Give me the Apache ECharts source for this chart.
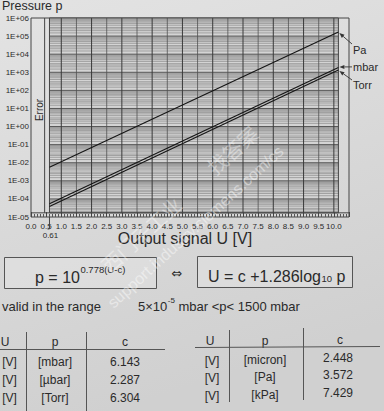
<!DOCTYPE html>
<html><head><meta charset="utf-8">
<script src="https://cdn.jsdelivr.net/npm/echarts@6/dist/echarts.min.js"></script>
<style>html,body{margin:0;padding:0;background:#d9d9d9}#c{width:384px;height:411px}</style>
</head><body><div id="c"></div><script>
// ---- data ----
const xTickLabels = ['0.0','0.5','1.0','1.5','2.0','2.5','3.0','3.5','4.0','4.5','5.0','5.5','6.0','6.5','7.0','7.5','8.0','8.5','9.0','9.5','10.0','10.5'];
const yTickLabels = ['1E+06','1E+05','1E+04','1E+03','1E+02','1E+01','1E+00','1E-01','1E-02','1E-03','1E-04','1E-05'];
const seriesNames = ['Pa','mbar','Torr'];
const lineU = [0.61, 10.15];
const paValues = [5.6e-3, 1.66e5];
const mbarValues = [5.4e-5, 1.86e3];
const torrValues = [3.8e-5, 1.35e3];
const vGridU = [1.0,1.5,2.0,2.5,3.0,3.5,4.0,4.5,5.0,5.5,6.0,6.5,7.0,7.5,8.0,8.5,9.0,9.5,10.0];
const hGridMantissa = [1,1.5,2,2.5,3,4,5,6,7,8,9];
const hGridDecades = [-5,-4,-3,-2,-1,0,1,2,3,4,5];
const leftUnits = ['[mbar]','[µbar]','[Torr]'];
const leftC = ['6.143','2.287','6.304'];
const rightUnits = ['[micron]','[Pa]','[kPa]'];
const rightC = ['2.448','3.572','7.429'];

// ---- layout constants ----
const FONT = '"Liberation Sans", Arial, sans-serif';
const TXT = '#2a2a2a';
const xMin = 0, xMax = 10.5, yMin = 1e-5, yMax = 1e6;
const hatchU = [0.61, 10.15];
const hatchBottom = 1.7e-5;
const errorU = 0.45;

const chart = echarts.init(document.getElementById('c'), null, {renderer: 'svg'});

function renderHatch(params, api) {
  const tl = api.coord([hatchU[0], yMax]);
  const br = api.coord([hatchU[1], hatchBottom]);
  const kids = [];
  kids.push({type: 'rect', shape: {x: tl[0], y: tl[1], width: br[0] - tl[0], height: br[1] - tl[1]}, style: {fill: '#d4d4d4'}});
  hGridDecades.forEach(d => {
    hGridMantissa.forEach(m => {
      const v = m * Math.pow(10, d);
      if (v < hatchBottom || v > yMax) return;
      const y = api.coord([hatchU[0], v])[1];
      const major = m === 1;
      kids.push({type: 'line', shape: {x1: tl[0], y1: y, x2: br[0], y2: y},
        style: {stroke: major ? '#4a4a4a' : '#747474', lineWidth: major ? 0.9 : 0.55}});
    });
  });
  vGridU.forEach(u => {
    const x = api.coord([u, 1])[0];
    const whole = Math.abs(u - Math.round(u)) < 1e-6;
    kids.push({type: 'line', shape: {x1: x, y1: tl[1], x2: x, y2: br[1]},
      style: {stroke: whole ? '#3a3a3a' : '#505050', lineWidth: whole ? 1 : 0.8}});
  });
  kids.push({type: 'rect', shape: {x: tl[0], y: tl[1], width: br[0] - tl[0], height: br[1] - tl[1]}, style: {fill: 'none', stroke: '#444', lineWidth: 1}});
  const ex = api.coord([errorU, 1])[0];
  kids.push({type: 'line', shape: {x1: ex, y1: tl[1], x2: ex, y2: br[1]}, style: {stroke: '#444', lineWidth: 1}});
  const l0 = api.coord([xMin, hatchBottom]);
  const l1 = api.coord([xMax, hatchBottom]);
  kids.push({type: 'line', shape: {x1: l0[0], y1: l0[1], x2: l1[0], y2: l1[1]}, style: {stroke: '#444', lineWidth: 1}});
  return {type: 'group', children: kids};
}

function lineSeries(name, vals) {
  return {
    name, type: 'line', silent: true, symbol: 'none', z: 5,
    data: [[lineU[0], vals[0]], [lineU[1], vals[1]]],
    lineStyle: {color: '#151515', width: 1.1}
  };
}

chart.setOption({
  animation: false,
  backgroundColor: {type: 'linear', x: 0, y: 0, x2: 0.3, y2: 1,
    colorStops: [{offset: 0, color: '#e3e3e3'}, {offset: 1, color: '#d0d0d0'}]},
  grid: {left: 31, right: 35, top: 18, bottom: 194, show: true, borderColor: '#444', borderWidth: 1, backgroundColor: 'transparent'},
  xAxis: {
    type: 'value', min: xMin, max: xMax, interval: 0.5,
    axisLine: {show: false},
    axisTick: {show: true, inside: true, length: 5, lineStyle: {color: '#444'}},
    minorTick: {show: true, splitNumber: 5, length: 3, lineStyle: {color: '#555'}},
    splitLine: {show: false},
    axisLabel: {fontSize: 8, color: TXT, fontFamily: FONT, margin: 5,
      formatter: v => xTickLabels[Math.round(v / 0.5)] || ''},
    name: 'Output signal U [V]', nameLocation: 'middle', nameGap: 12,
    nameTextStyle: {fontSize: 16, color: TXT, fontFamily: FONT, padding: [0, 10, 0, 0]}
  },
  yAxis: {
    type: 'log', logBase: 10, min: yMin, max: yMax, interval: 1,
    axisLine: {show: false}, axisTick: {show: false}, splitLine: {show: false},
    axisLabel: {fontSize: 8, color: TXT, fontFamily: FONT, margin: 2,
      formatter: v => yTickLabels[6 - Math.round(Math.log10(v))] || ''}
  },
  series: [
    {type: 'custom', silent: true, z: 1, data: [[hatchU[0], 1]], renderItem: renderHatch, clip: false},
    lineSeries(seriesNames[0], paValues),
    lineSeries(seriesNames[1], mbarValues),
    lineSeries(seriesNames[2], torrValues)
  ]
});

// ---- annotations ----
const mctx = document.createElement('canvas').getContext('2d');
function tw(str, size) { mctx.font = size + 'px ' + FONT; return mctx.measureText(str).width; }
function txt(s, x, y, size, align, extra, family) {
  return Object.assign({type: 'text', x, y, silent: true, z: 20,
    style: {text: s, fontSize: size, fontFamily: family || FONT, fill: TXT, align: align || 'left', verticalAlign: 'middle'}}, extra || {});
}
function seg(x1, y1, x2, y2, w, c) {
  return {type: 'line', silent: true, z: 20, shape: {x1, y1, x2, y2}, style: {stroke: c || '#555', lineWidth: w || 1}};
}
function arrow(x1, y1, x2, y2) {
  const a = Math.atan2(y2 - y1, x2 - x1), L = 5, W = 2;
  const bx = x2 - L * Math.cos(a), by = y2 - L * Math.sin(a);
  return [seg(x1, y1, bx, by, 0.9, '#333'),
    {type: 'polygon', silent: true, z: 20, shape: {points: [[x2, y2],
      [bx + W * Math.sin(a), by - W * Math.cos(a)], [bx - W * Math.sin(a), by + W * Math.cos(a)]]},
      style: {fill: '#333'}}];
}
const P = (x, y) => chart.convertToPixel({gridIndex: 0}, [x, y]);
const paEnd = P(lineU[1], paValues[1]);
const mbEnd = P(lineU[1], mbarValues[1]);
const toEnd = P(lineU[1], torrValues[1]);
const b0 = P(hatchU[0], yMin);
const g = [];
g.push(txt('Pressure p', 2, 6, 12.5));
g.push(txt('Error', 39, 110, 10, 'center', {rotation: Math.PI / 2}));
// right labels + arrows
g.push(txt(seriesNames[0], 353, 50, 11));
g.push(txt(seriesNames[1], 353, 67, 11));
g.push(txt(seriesNames[2], 353, 85, 11));
g.push(...arrow(352, 44, paEnd[0] + 1, paEnd[1] + 1));
g.push(...arrow(352, mbEnd[1] - 0.5, mbEnd[0] + 1, mbEnd[1] - 0.5));
g.push(...arrow(352, 80, toEnd[0] + 1, toEnd[1] + 1));
// 0.61 bracket
g.push(seg(b0[0], b0[1], b0[0], b0[1] + 12, 1, '#444'));
g.push(seg(b0[0] - 2, b0[1] + 12, b0[0], b0[1] + 12, 1, '#444'));
g.push(txt('0.61', b0[0] + 1, 235, 8, 'center'));
// formula boxes
g.push({type: 'rect', silent: true, z: 19, shape: {x: 4.5, y: 257.5, width: 152, height: 31}, style: {fill: 'rgba(235,235,235,0.35)', stroke: '#555', lineWidth: 1}});
g.push({type: 'rect', silent: true, z: 19, shape: {x: 197.5, y: 256.5, width: 155, height: 31}, style: {fill: 'rgba(235,235,235,0.35)', stroke: '#555', lineWidth: 1}});
const f1 = 'p = 10';
g.push(txt(f1, 35, 277, 16));
g.push(txt('0.778(U-c)', 35 + tw(f1, 16) + 0.5, 269, 9.5));
g.push(txt('\u21D4', 177, 273, 13, 'center', null, '"DejaVu Sans", sans-serif'));
const f2 = 'U = c +1.286log';
const f2w = tw(f2, 16);
g.push(txt(f2, 208, 276, 16));
g.push(txt('10', 208 + f2w + 0.5, 278, 9.5));
g.push(txt(' p', 208 + f2w + 0.5 + tw('10', 9.5), 276, 16));
// validity row
g.push(txt('valid in the range', 2, 306, 13));
const v1 = '5\u00D710';
g.push(txt(v1, 138, 306, 13));
const v1w = tw(v1, 13);
g.push(txt('-5', 138 + v1w + 0.5, 300, 8));
g.push(txt(' mbar <p< 1500 mbar', 138 + v1w + 0.5 + tw('-5', 8), 306, 13));
// left table
g.push(txt('U', 5, 342, 12, 'center'));
g.push(txt('p', 55, 342, 12, 'center'));
g.push(txt('c', 125, 342, 12, 'center'));
g.push(seg(0, 349.5, 165, 349.5));
g.push(seg(26.5, 332, 26.5, 411));
g.push(seg(86.5, 332, 86.5, 411));
const rowsL = [362, 380, 398];
leftUnits.forEach((u, i) => {
  g.push(txt('[V]', 9.5, rowsL[i], 12, 'center'));
  g.push(txt(u, 55, rowsL[i], 12, 'center'));
  g.push(txt(leftC[i], 125, rowsL[i], 12, 'center'));
});
// right table
g.push(txt('U', 210, 341, 12, 'center'));
g.push(txt('p', 265, 341, 12, 'center'));
g.push(txt('c', 340, 340, 12, 'center'));
g.push(seg(195, 347.5, 380, 346.5));
g.push(seg(229.5, 330, 229.5, 402));
g.push(seg(303.5, 328, 303.5, 400));
const rowsR = [360, 377, 395];
rightUnits.forEach((u, i) => {
  g.push(txt('[V]', 212, rowsR[i] + 1, 12, 'center'));
  g.push(txt(u, 265, rowsR[i], 12, 'center'));
  g.push(txt(rightC[i], 338, rowsR[i] - 2, 12, 'center'));
});
// watermark
const rot = 0.74;
g.push({type: 'text', silent: true, z: 30, x: 110, y: 305, rotation: rot,
  style: {text: 'support.industry.siemens.com/cs', fontSize: 16, fontFamily: FONT, fill: 'rgba(255,255,255,0.45)', align: 'left', verticalAlign: 'middle'}});
g.push({type: 'text', silent: true, z: 30, x: 104, y: 268, rotation: rot,
  style: {text: '西门子工业', fontSize: 20, fontFamily: '"Noto Sans CJK SC", sans-serif', fill: 'rgba(255,255,255,0.4)', align: 'left', verticalAlign: 'middle'}});
g.push({type: 'text', silent: true, z: 30, x: 210, y: 170, rotation: rot,
  style: {text: '找答案', fontSize: 20, fontFamily: '"Noto Sans CJK SC", sans-serif', fill: 'rgba(255,255,255,0.4)', align: 'left', verticalAlign: 'middle'}});

chart.setOption({graphic: g});
</script></body></html>
